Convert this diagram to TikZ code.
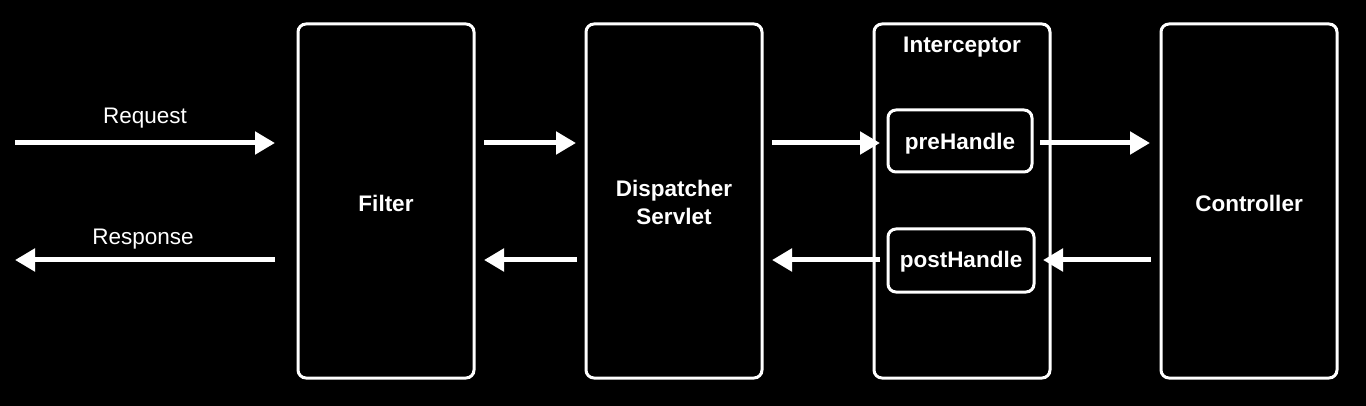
\documentclass[tikz,border=0pt]{standalone}
\usepackage{fontspec}
\setmainfont{Liberation Sans}
\usetikzlibrary{arrows.meta}
\begin{document}
\begin{tikzpicture}[x=1pt,y=-1pt,
  box/.style={draw=white, line width=3pt, rounded corners=8pt, outer sep=0pt, inner sep=0pt},
  bigbox/.style={box, minimum width=176pt, minimum height=354pt},
  hbox/.style={box, minimum height=62pt},
  lbl/.style={text=white, font=\fontsize{22.5}{28}\selectfont\bfseries, align=center},
  plain/.style={text=white, font=\fontsize{22.5}{28}\selectfont},
  arr/.style={draw=white, line width=5pt, -{Triangle[length=20pt,width=22pt]}}]
\fill[black] (0,0) rectangle (1366,406);
\useasboundingbox (0,0) rectangle (1366,406);
\node[bigbox] (filter) at (386,201) {};
\node[lbl] at ([yshift=-2.5pt]filter.center) {Filter};
\node[bigbox] (disp) at (674,201) {};
\node[lbl] at ([yshift=-1.5pt]disp.center) {Dispatcher\\Servlet};
\node[bigbox] (inter) at (962,201) {};
\node[lbl] (intertitle) at (962,47) {Interceptor};
\node[bigbox] (ctrl) at (1249,201) {};
\node[lbl] at ([yshift=-2.5pt]ctrl.center) {Controller};
\node[hbox, minimum width=144pt] (pre) at (960,141) {};
\node[lbl] at ([yshift=-3pt]pre.center) {preHandle};
\node[hbox, minimum width=146pt, minimum height=63pt] (post) at (961,260.5) {};
\node[lbl] at ([yshift=-1.5pt]post.center) {postHandle};
\coordinate (reqin) at (15,143);
\coordinate (respout) at (15,260);
\node[plain] (reqlbl) at (145,118.5) {Request};
\node[plain] (resplbl) at (143,239.5) {Response};
% request path
\draw[arr, shorten >=23pt] (reqin) -- (reqin -| filter.west);
\draw[arr, shorten <=10pt, shorten >=10pt] (reqin -| filter.east) -- (reqin -| disp.west);
\draw[arr, shorten <=10pt, shorten >=8pt] (reqin -| disp.east) -- (reqin -| pre.west);
\draw[arr, shorten <=8pt, shorten >=11pt] (reqin -| pre.east) -- (reqin -| ctrl.west);
% response path
\draw[arr, shorten <=10pt, shorten >=9pt] (respout -| ctrl.west) -- (respout -| post.east);
\draw[arr, shorten <=8pt, shorten >=10pt] (respout -| post.west) -- (respout -| disp.east);
\draw[arr, shorten <=9pt, shorten >=10pt] (respout -| disp.west) -- (respout -| filter.east);
\draw[arr, shorten <=23pt] (respout -| filter.west) -- (respout);
\end{tikzpicture}
\end{document}
